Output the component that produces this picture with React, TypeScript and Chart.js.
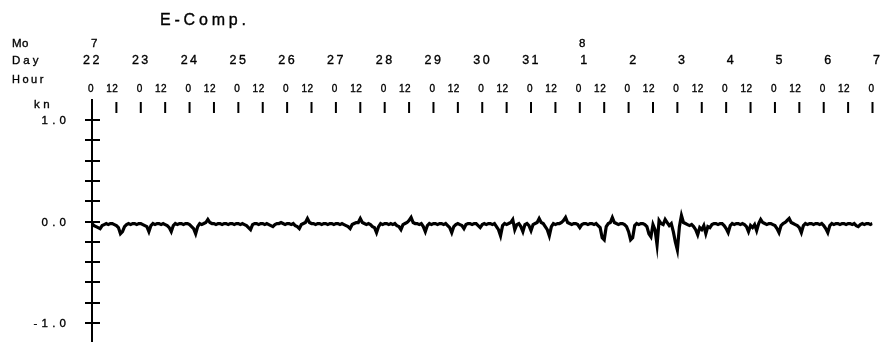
import { useEffect, useRef } from 'react';
import { Chart, registerables } from 'chart.js';

Chart.register(...registerables);

const TITLE = 'E-Comp.';
const ROW_LABELS = { month: 'Mo', day: 'Day', hour: 'Hour', unit: 'kn' };
const DAY_LABELS = ['22', '23', '24', '25', '26', '27', '28', '29', '30', '31', '1', '2', '3', '4', '5', '6', '7'];
const MONTH_LABELS = [
  { dayIndex: 0, text: '7' },
  { dayIndex: 10, text: '8' },
];
const HOUR_LABELS = ['0', '12'];
const Y_TICK_VALUES = [-1.0, -0.8, -0.6, -0.4, -0.2, 0.0, 0.2, 0.4, 0.6, 0.8, 1.0];
const Y_LABELS = [
  { value: 1.0, text: '1.0' },
  { value: 0.0, text: '0.0' },
  { value: -1.0, text: '-1.0' },
];
const TOTAL_HOURS = 384;
const SAMPLE_STEP_HOURS = 1;

// East component (kn), hourly from Jul 22 00h
const E_COMP = [
  -0.02, -0.04, -0.05, -0.06, -0.07, -0.04, -0.03, -0.02, -0.03, -0.02,
  -0.02, -0.03, -0.04, -0.06, -0.12, -0.10, -0.05, -0.03, -0.02, -0.03,
  -0.02, -0.02, -0.03, -0.02, -0.02, -0.03, -0.04, -0.05, -0.10, -0.04,
  -0.02, -0.03, -0.02, -0.02, -0.03, -0.02, -0.03, -0.04, -0.06, -0.10,
  -0.04, -0.02, -0.03, -0.02, -0.02, -0.03, -0.02, -0.02, -0.03, -0.05,
  -0.07, -0.12, -0.05, -0.02, -0.03, -0.02, -0.01, 0.02, -0.01, -0.02,
  -0.02, -0.03, -0.02, -0.02, -0.03, -0.02, -0.02, -0.03, -0.02, -0.02,
  -0.03, -0.02, -0.02, -0.03, -0.02, -0.03, -0.04, -0.06, -0.08, -0.03,
  -0.02, -0.02, -0.03, -0.02, -0.02, -0.03, -0.02, -0.03, -0.04, -0.05,
  -0.03, -0.02, -0.02, -0.01, -0.02, -0.03, -0.02, -0.02, -0.03, -0.02,
  -0.04, -0.05, -0.07, -0.03, -0.02, -0.01, 0.03, -0.01, -0.02, -0.02,
  -0.03, -0.02, -0.02, -0.03, -0.02, -0.02, -0.03, -0.02, -0.02, -0.03,
  -0.02, -0.02, -0.03, -0.02, -0.03, -0.04, -0.05, -0.07, -0.03, -0.02,
  -0.01, -0.01, 0.03, -0.01, -0.02, -0.03, -0.02, -0.03, -0.05, -0.06,
  -0.11, -0.05, -0.02, -0.03, -0.02, -0.02, -0.03, -0.02, -0.03, -0.02,
  -0.04, -0.05, -0.08, -0.03, -0.02, -0.01, 0.01, 0.04, -0.01, -0.02,
  -0.02, -0.03, -0.02, -0.05, -0.10, -0.04, -0.02, -0.03, -0.02, -0.02,
  -0.03, -0.02, -0.02, -0.03, -0.02, -0.04, -0.06, -0.11, -0.05, -0.03,
  -0.02, -0.03, -0.04, -0.07, -0.03, -0.02, -0.02, -0.03, -0.02, -0.02,
  -0.04, -0.06, -0.03, -0.02, -0.03, -0.02, -0.02, -0.03, -0.02, -0.05,
  -0.08, -0.14, -0.04, -0.02, -0.03, -0.02, -0.01, 0.02, -0.08, -0.03,
  -0.02, -0.05, -0.10, -0.03, -0.02, -0.04, -0.09, -0.03, -0.02, -0.01,
  0.03, -0.01, -0.02, -0.05, -0.08, -0.14, -0.05, -0.02, -0.03, -0.02,
  -0.02, -0.01, 0.01, 0.04, -0.01, -0.02, -0.03, -0.02, -0.02, -0.03,
  -0.06, -0.03, -0.02, -0.02, -0.03, -0.02, -0.02, -0.03, -0.02, -0.04,
  -0.06, -0.16, -0.18, -0.05, -0.02, -0.01, 0.04, -0.01, -0.02, -0.03,
  -0.02, -0.02, -0.03, -0.05, -0.10, -0.18, -0.16, -0.04, -0.02, -0.03,
  -0.02, -0.02, -0.03, -0.05, -0.12, -0.15, -0.03, -0.08, -0.23, 0.01,
  -0.02, -0.03, 0.02, -0.01, -0.04, -0.02, -0.10, -0.20, -0.28, -0.05,
  0.06, -0.01, -0.02, -0.03, -0.04, -0.03, -0.05, -0.08, -0.13, -0.06,
  -0.08, -0.04, -0.12, -0.05, -0.06, -0.03, -0.02, -0.02, -0.03, -0.02,
  -0.02, -0.04, -0.07, -0.11, -0.04, -0.02, -0.03, -0.02, -0.02, -0.03,
  -0.02, -0.03, -0.05, -0.10, -0.04, -0.06, -0.03, -0.09, -0.02, 0.02,
  -0.01, -0.02, -0.03, -0.02, -0.02, -0.03, -0.04, -0.07, -0.11, -0.04,
  -0.02, -0.01, 0.01, 0.03, -0.01, -0.02, -0.03, -0.04, -0.06, -0.11,
  -0.04, -0.02, -0.03, -0.02, -0.02, -0.03, -0.02, -0.02, -0.03, -0.02,
  -0.04, -0.07, -0.11, -0.04, -0.02, -0.03, -0.02, -0.02, -0.03, -0.02,
  -0.02, -0.03, -0.02, -0.02, -0.03, -0.02, -0.04, -0.05, -0.03, -0.02,
  -0.03, -0.02, -0.02, -0.03, -0.02,
];

const FONT = '"Liberation Sans", Arial, Helvetica, sans-serif';

function drawSpaced(
  ctx: CanvasRenderingContext2D,
  text: string,
  x: number,
  y: number,
  spacing: number,
  align: 'left' | 'right' | 'center'
) {
  const chars = Array.from(text);
  const widths = chars.map((c) => ctx.measureText(c).width);
  const total = widths.reduce((a, b) => a + b, 0) + spacing * (chars.length - 1);
  let cx = align === 'right' ? x - total : align === 'center' ? x - total / 2 : x;
  ctx.textAlign = 'left';
  const prevWidth = ctx.lineWidth;
  ctx.lineWidth = 0.35;
  chars.forEach((c, i) => {
    ctx.fillText(c, cx, y);
    ctx.strokeText(c, cx, y);
    cx += widths[i] + spacing;
  });
  ctx.lineWidth = prevWidth;
}

const axesPlugin = {
  id: 'oceanAxes',
  afterDraw(chart: any) {
    const ctx: CanvasRenderingContext2D = chart.ctx;
    const xs = chart.scales.x;
    const ys = chart.scales.y;
    const area = chart.chartArea;
    ctx.save();
    ctx.fillStyle = '#000';
    ctx.strokeStyle = '#000';
    ctx.textBaseline = 'alphabetic';

    const x0 = xs.getPixelForValue(0);

    // y axis line
    ctx.lineWidth = 2;
    ctx.beginPath();
    ctx.moveTo(x0, area.top);
    ctx.lineTo(x0, chart.height);
    ctx.stroke();

    // y ticks (both sides)
    Y_TICK_VALUES.forEach((v) => {
      const py = Math.round(ys.getPixelForValue(v));
      ctx.beginPath();
      ctx.moveTo(x0 - 7, py);
      ctx.lineTo(x0 + 8, py);
      ctx.stroke();
    });

    // top time ticks every 12 h
    for (let h = 0; h <= TOTAL_HOURS; h += 12) {
      const px = xs.getPixelForValue(h);
      ctx.beginPath();
      ctx.moveTo(px, area.top + 3);
      ctx.lineTo(px, area.top + 14);
      ctx.stroke();
    }

    // y labels
    ctx.font = `11.5px ${FONT}`;
    Y_LABELS.forEach((l) => {
      const py = ys.getPixelForValue(l.value);
      drawSpaced(ctx, l.text, 66, py + 4, 4.2, 'right');
    });

    // hour labels
    ctx.font = `10px ${FONT}`;
    for (let d = 0; d <= TOTAL_HOURS / 24; d++) {
      HOUR_LABELS.forEach((t, k) => {
        const h = d * 24 + k * 12;
        if (h > TOTAL_HOURS) return;
        drawSpaced(ctx, t, xs.getPixelForValue(h) + 1.5, 92, 0.5, 'right');
      });
    }

    // day labels
    ctx.font = `12.5px ${FONT}`;
    DAY_LABELS.forEach((t, d) => {
      drawSpaced(ctx, t, xs.getPixelForValue(d * 24) + 7.5, 64, 2.5, 'right');
    });

    // month labels
    ctx.font = `11.5px ${FONT}`;
    MONTH_LABELS.forEach((m) => {
      drawSpaced(ctx, m.text, xs.getPixelForValue(m.dayIndex * 24) + 5.5, 47, 3, 'right');
    });

    // row labels
    ctx.font = `11.5px ${FONT}`;
    drawSpaced(ctx, ROW_LABELS.month, 12, 47, 0.5, 'left');
    drawSpaced(ctx, ROW_LABELS.day, 12, 64, 3, 'left');
    ctx.font = `11px ${FONT}`;
    drawSpaced(ctx, ROW_LABELS.hour, 12, 83, 2.5, 'left');
    ctx.font = `11.5px ${FONT}`;
    drawSpaced(ctx, ROW_LABELS.unit, 34, 108, 3.5, 'left');

    // title
    ctx.font = `16px ${FONT}`;
    drawSpaced(ctx, TITLE, 160, 25, 3.8, 'left');

    ctx.restore();
  },
};

export default function App() {
  const ref = useRef<HTMLCanvasElement | null>(null);

  useEffect(() => {
    if (!ref.current) return;
    const points = E_COMP.map((v, i) => ({ x: i * SAMPLE_STEP_HOURS, y: v }));
    const chart = new Chart(ref.current, {
      type: 'line',
      data: {
        datasets: [
          {
            data: points,
            borderColor: '#000',
            borderWidth: 3.2,
            pointRadius: 0,
            tension: 0,
            fill: false,
          },
        ],
      },
      options: {
        animation: false,
        responsive: false,
        devicePixelRatio: 1,
        events: [],
        layout: { padding: { left: 92, right: 8.5, top: 99, bottom: 0 } },
        plugins: { legend: { display: false }, tooltip: { enabled: false }, title: { display: false } },
        scales: {
          x: { type: 'linear', min: 0, max: TOTAL_HOURS, display: false },
          y: { type: 'linear', min: -1.187, max: 1.207, display: false },
        },
      },
      plugins: [axesPlugin],
    });
    return () => chart.destroy();
  }, []);

  return (
    <div style={{ position: 'absolute', left: 0, top: 0, width: 881, height: 342, background: '#fff' }}>
      <canvas ref={ref} width={881} height={342} style={{ display: 'block', width: 881, height: 342 }} />
    </div>
  );
}
